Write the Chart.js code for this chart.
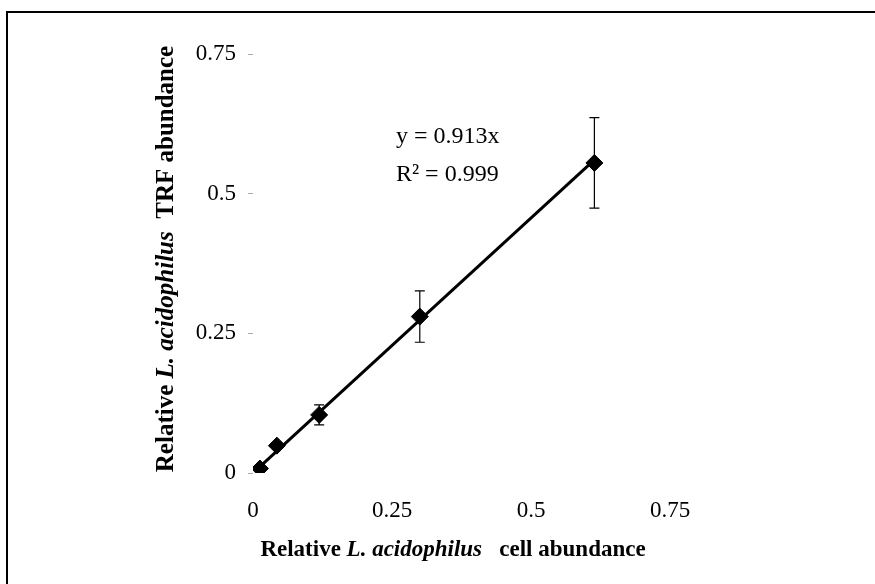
<!DOCTYPE html>
<html>
<head>
<meta charset="utf-8">
<script src="https://cdn.jsdelivr.net/npm/chart.js@4"></script>
<style>
  html, body { margin: 0; padding: 0; background: #fff; }
  #wrap { position: relative; width: 875px; height: 584px; overflow: hidden; }
  #frame { position: absolute; left: 6px; top: 11px; width: 900px; height: 600px;
           border-top: 2px solid #000; border-left: 2px solid #000; }
  canvas { position: absolute; left: 0; top: 0; }
</style>
</head>
<body>
<div id="wrap">
  <div id="frame"></div>
  <canvas id="abundanceChart" width="875" height="584"></canvas>
</div>
<script>
// Measured points (cell abundance vs TRF abundance)
const cellAbundance = [0.0125, 0.043, 0.119, 0.300, 0.614];
const trfAbundance = [0.008, 0.049, 0.104, 0.280, 0.555];
const trfError = [0, 0, 0.018, 0.046, 0.081];

// Fitted trendline y = 0.913x
const slope = 0.913;
const axisTicks = [0, 0.25, 0.5, 0.75];

const points = cellAbundance.map((x, i) => ({ x: x, y: trfAbundance[i] }));
const xMin = Math.min(...cellAbundance);
const xMax = Math.max(...cellAbundance);
const trend = [{ x: xMin, y: slope * xMin }, { x: xMax, y: slope * xMax }];

const serif = '"Liberation Serif", "Times New Roman", serif';

// error bars drawn through the scales
const errorBars = {
  id: 'errorBars',
  afterDatasetsDraw(chart) {
    const { ctx, scales: { x, y } } = chart;
    ctx.save();
    ctx.strokeStyle = '#000';
    ctx.lineWidth = 1.2;
    points.forEach((p, i) => {
      const e = trfError[i];
      if (!e) return;
      const px = x.getPixelForValue(p.x);
      const top = y.getPixelForValue(p.y + e);
      const bot = y.getPixelForValue(p.y - e);
      ctx.beginPath();
      ctx.moveTo(px, top); ctx.lineTo(px, bot);
      ctx.moveTo(px - 5, top); ctx.lineTo(px + 5, top);
      ctx.moveTo(px - 5, bot); ctx.lineTo(px + 5, bot);
      ctx.stroke();
    });
    ctx.restore();
  }
};

// draws a line of text made of styled parts, centred on (0,0)
function drawParts(ctx, parts) {
  let total = 0;
  parts.forEach(p => { ctx.font = p.font; p.w = ctx.measureText(p.text).width; total += p.w; });
  let cx = -total / 2;
  parts.forEach(p => { ctx.font = p.font; ctx.fillText(p.text, cx, 0); cx += p.w; });
}

// axis titles (mixed bold / bold italic) and regression text
const labels = {
  id: 'labels',
  afterDraw(chart) {
    const { ctx, scales: { x, y } } = chart;
    ctx.save();
    ctx.fillStyle = '#000';
    ctx.textAlign = 'left';
    ctx.textBaseline = 'alphabetic';

    ctx.save();
    ctx.translate(453, 556);
    drawParts(ctx, [
      { text: 'Relative ', font: 'bold 23px ' + serif },
      { text: 'L. acidophilus', font: 'italic bold 23px ' + serif },
      { text: '   cell abundance', font: 'bold 23px ' + serif }
    ]);
    ctx.restore();

    ctx.save();
    ctx.translate(173, 259);
    ctx.rotate(-Math.PI / 2);
    drawParts(ctx, [
      { text: 'Relative ', font: 'bold 25px ' + serif },
      { text: 'L. acidophilus', font: 'italic bold 25px ' + serif },
      { text: '  TRF abundance', font: 'bold 25px ' + serif }
    ]);
    ctx.restore();

    // equation
    const ex = x.getPixelForValue(0.257);
    ctx.font = '24px ' + serif;
    ctx.fillText('y = 0.913x', ex, y.getPixelForValue(0.591));
    ctx.fillText('R\u00B2 = 0.999', ex, y.getPixelForValue(0.523));
    ctx.restore();
  }
};

const config = {
  type: 'scatter',
  data: {
    datasets: [{
      label: 'TRF abundance',
      data: points,
      pointStyle: 'rectRot',
      pointRadius: 8.5,
      pointHoverRadius: 8.5,
      backgroundColor: '#000',
      borderColor: '#000',
      order: 0
    }, {
      label: 'Linear fit',
      data: trend,
      showLine: true,
      pointRadius: 0,
      borderColor: '#000',
      borderWidth: 3,
      order: 1
    }]
  },
  options: {
    responsive: false,
    animation: false,
    layout: { padding: { top: 54, right: 205, bottom: 0, left: 0 } },
    scales: {
      x: {
        min: 0,
        max: 0.75,
        afterBuildTicks(scale) { scale.ticks = axisTicks.map(v => ({ value: v })); },
        afterFit(scale) { scale.height = 111; },
        grid: { display: false },
        border: { display: false },
        ticks: {
          padding: 16,
          color: '#000',
          font: { family: serif, size: 23 },
          callback: v => String(v)
        }
      },
      y: {
        min: 0,
        max: 0.75,
        afterBuildTicks(scale) { scale.ticks = axisTicks.map(v => ({ value: v })); },
        afterFit(scale) { scale.width = 253; },
        grid: { drawOnChartArea: false, drawTicks: true, tickLength: 5, color: '#aaa' },
        border: { display: false },
        ticks: {
          padding: 12,
          color: '#000',
          font: { family: serif, size: 23 },
          callback: v => String(v)
        }
      }
    },
    plugins: {
      legend: { display: false },
      tooltip: { enabled: false }
    }
  },
  plugins: [errorBars, labels]
};

new Chart(document.getElementById('abundanceChart').getContext('2d'), config);
</script>
</body>
</html>
